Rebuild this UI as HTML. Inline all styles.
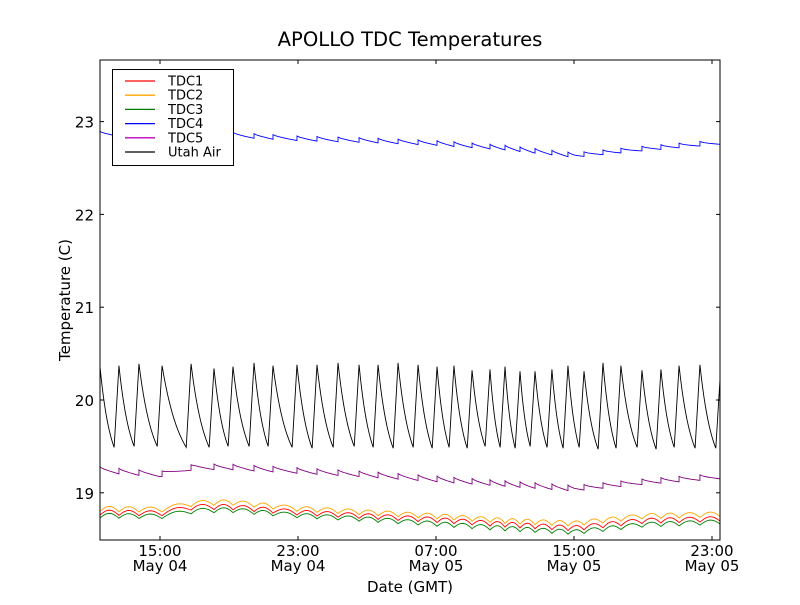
<!DOCTYPE html>
<html><head><meta charset="utf-8"><style>
body{margin:0;background:#fff;}
svg{font-family:"DejaVu Sans","Liberation Sans",sans-serif;}
</style></head><body>
<svg id="c" width="800" height="600" viewBox="0 0 800 600" xmlns="http://www.w3.org/2000/svg">
<rect width="800" height="600" fill="#fff"/>
<defs><clipPath id="pc"><rect x="100" y="60" width="620" height="480"/></clipPath></defs>
<text x="410" y="46" text-anchor="middle" font-size="19.6">APOLLO TDC Temperatures</text>
<g id="series" clip-path="url(#pc)"></g>
<rect x="100" y="60" width="620" height="480" fill="none" stroke="#000" stroke-width="1"/>
<g id="axes"></g>
<text x="410" y="592" text-anchor="middle" font-size="15">Date (GMT)</text>
<text transform="translate(70,300) rotate(-90)" text-anchor="middle" font-size="15">Temperature (C)</text>
<g id="legend"></g>
</svg>
<script>
// time in hours since 2010-05-04 00:00 GMT
const utahPeakT=[11.52,12.62,13.78,15.12,16.80,18.13,19.23,20.45,21.55,22.94,24.10,25.32,26.54,27.64,28.80,29.96,31.06,32.04,33.09,34.13,35.00,35.87,36.74,37.72,38.65,39.58,40.68,41.72,42.94,44.04,45.09,46.30,47.50];
const utahPeakV=[20.36,20.37,20.39,20.37,20.39,20.34,20.36,20.40,20.37,20.38,20.38,20.40,20.38,20.38,20.40,20.38,20.36,20.37,20.32,20.33,20.36,20.31,20.31,20.33,20.37,20.31,20.40,20.37,20.32,20.33,20.37,20.38,20.33];
const utahTroughV=[19.49,19.50,19.50,19.49,19.49,19.50,19.50,19.50,19.49,19.48,19.49,19.50,19.49,19.48,19.49,19.48,19.49,19.48,19.50,19.49,19.48,19.50,19.49,19.48,19.49,19.47,19.48,19.49,19.47,19.49,19.48,19.48];
const baseT=[11.5,15,17,19,23,27,31,35,39,43,47.5];
const tdc1Base=[18.76,18.75,18.82,18.82,18.76,18.72,18.68,18.63,18.59,18.67,18.69];
const tdc2Base=[18.80,18.79,18.86,18.87,18.80,18.76,18.72,18.67,18.64,18.72,18.74];
const tdc3Base=[18.73,18.72,18.78,18.79,18.73,18.69,18.64,18.59,18.55,18.63,18.66];
const tdc4Base=[22.87,22.86,22.88,22.86,22.82,22.80,22.77,22.72,22.64,22.71,22.78];
const tdc5Base=[19.25,19.20,19.28,19.28,19.24,19.20,19.15,19.10,19.05,19.12,19.18];
const yTicks=[19,20,21,22,23];
const xTickT=[15,23,31,39,47];
const xTickTime=["15:00","23:00","07:00","15:00","23:00"];
const xTickDate=["May 04","May 04","May 05","May 05","May 05"];
const legendNames=["TDC1","TDC2","TDC3","TDC4","TDC5","Utah Air"];
const legendColors=["#ff0000","#ffa500","#008000","#0000ff","#bf00bf","#000000"];

const NS="http://www.w3.org/2000/svg";
const xs=t=>160+(t-15)*17.25;
const ys=v=>400-(v-20)*92.8;
function base(arr,t){
  for(let i=0;i<baseT.length-1;i++){
    if(t<=baseT[i+1]){const s=(t-baseT[i])/(baseT[i+1]-baseT[i]);return arr[i]+(arr[i+1]-arr[i])*s;}
  }
  return arr[arr.length-1];
}
function mk(tag,attrs,parent){const e=document.createElementNS(NS,tag);for(const k in attrs)e.setAttribute(k,attrs[k]);parent.appendChild(e);return e;}
const g=document.getElementById('series');
function addPath(pts,color,name){
  const p=mk('path',{d:'M'+pts.map(q=>q[0].toFixed(2)+','+q[1].toFixed(2)).join('L'),fill:'none',stroke:color,'stroke-width':0.9},g);
  
  
}
(function(){
  const pts=[];const k=1.3;const rise=0.28;
  for(let i=0;i<utahPeakT.length-1;i++){
    const t0=utahPeakT[i],t1=utahPeakT[i+1]-rise;
    const vp=utahPeakV[i],vt=utahTroughV[i];
    for(let j=0;j<=12;j++){
      const s=j/12;const f=(Math.exp(-k*s)-Math.exp(-k))/(1-Math.exp(-k));
      pts.push([xs(t0+(t1-t0)*s),ys(vt+(vp-vt)*f)]);
    }
  }
  pts.push([xs(utahPeakT[utahPeakT.length-1]),ys(utahPeakV[utahPeakV.length-1])]);
  addPath(pts,'#000','utah-air-line');
})();
function rippleSeries(arr,amp,mode,color,name){
  const pts=[];
  for(let i=0;i<utahPeakT.length-1;i++){
    const t0=utahPeakT[i],t1=utahPeakT[i+1];
    for(let j=0;j<=10;j++){
      const s=j/10;const t=t0+(t1-t0)*s;
      let r;
      if(mode==='arc') r=amp*Math.sin(Math.PI*s);
      else r=amp*(0.5-Math.pow(s,0.7));
      pts.push([xs(t),ys(base(arr,t)+r)]);
    }
  }
  addPath(pts,color,name);
}
rippleSeries(tdc4Base,0.05,'saw','#0000ff','tdc4-line');
rippleSeries(tdc5Base,0.06,'saw','#800080','tdc5-line');
rippleSeries(tdc2Base,0.055,'arc','#ffa500','tdc2-line');
rippleSeries(tdc1Base,0.055,'arc','#ff0000','tdc1-line');
rippleSeries(tdc3Base,0.05,'arc','#008000','tdc3-line');

const ax=document.getElementById('axes');
yTicks.forEach(v=>{
  const y=ys(v);
  mk('line',{x1:100,x2:104,y1:y,y2:y,stroke:'#000'},ax);
  mk('line',{x1:716,x2:720,y1:y,y2:y,stroke:'#000'},ax);
  const t=mk('text',{x:94,y:y+6,'text-anchor':'end','font-size':15},ax);
  t.textContent=String(v);
  
  
});
xTickT.forEach((tt,i)=>{
  const x=xs(tt);
  mk('line',{x1:x,x2:x,y1:540,y2:536,stroke:'#000'},ax);
  mk('line',{x1:x,x2:x,y1:60,y2:64,stroke:'#000'},ax);
  const a=mk('text',{x:x,y:556,'text-anchor':'middle','font-size':15},ax);
  a.textContent=xTickTime[i];
  
  
  const b=mk('text',{x:x,y:571,'text-anchor':'middle','font-size':15},ax);
  b.textContent=xTickDate[i];
  
  
});
const lg=document.getElementById('legend');
mk('rect',{x:112.5,y:69.5,width:121,height:96,fill:'#fff',stroke:'#000','stroke-width':1},lg);
legendNames.forEach((n,i)=>{
  const y=81+i*14.2;
  const l=mk('line',{x1:125,x2:155,y1:y,y2:y,stroke:legendColors[i],'stroke-width':1.3},lg);
  
  
  const t=mk('text',{x:168,y:y+4.5,'font-size':13},lg);
  t.textContent=n;
  
  
});
</script>
</body></html>
